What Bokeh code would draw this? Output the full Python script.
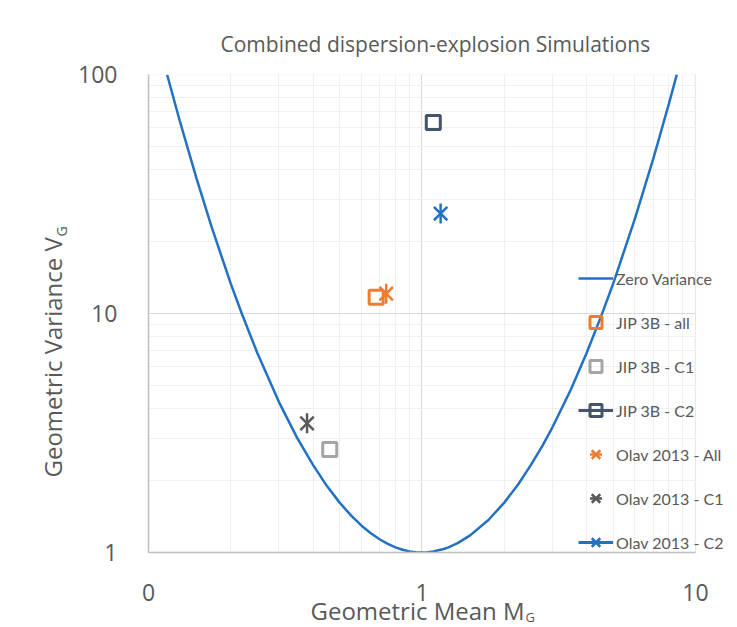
from bokeh.plotting import figure
from bokeh.models import Range1d, FixedTicker, Legend, LegendItem, Title, BoxAnnotation
from bokeh.embed import file_html
from bokeh.resources import INLINE

TITLE = "Combined dispersion-explosion Simulations"
X_LABEL = "Geometric Mean M"
Y_LABEL = "Geometric Variance V"
SUBSCRIPT = "G"

x_ticks = [0.1, 1, 10]
x_tick_labels = ["0", "1", "10"]
y_ticks = [1, 10, 100]
y_tick_labels = ["1", "10", "100"]

# Zero variance curve
zero_var_m = [0.117, 0.13, 0.15, 0.17, 0.2, 0.22, 0.25, 0.3, 0.35, 0.4, 0.45, 0.5, 0.55,
              0.6, 0.65, 0.7, 0.75, 0.8, 0.85, 0.9, 0.95, 1.0, 1.05, 1.1, 1.2, 1.25, 1.35,
              1.5, 1.75, 2.0, 2.25, 2.5, 2.75, 3.0, 3.5, 4.0, 4.5, 5.0, 6.0, 7.0, 8.0, 8.55]
zero_var_v = [99.8, 64.2, 36.6, 23.1, 13.3, 9.9, 6.83, 4.26, 3.01, 2.32, 1.892, 1.617, 1.43,
              1.298, 1.204, 1.136, 1.086, 1.051, 1.027, 1.011, 1.0026, 1.0, 1.0024, 1.009, 1.034, 1.051, 1.094,
              1.179, 1.368, 1.617, 1.93, 2.32, 2.782, 3.34, 4.8, 6.83, 9.61, 13.3, 24.8, 44.1, 75.5, 100.0]

series_names = ["JIP 3B - all", "JIP 3B - C1", "JIP 3B - C2",
                "Olav 2013 - All", "Olav 2013 - C1", "Olav 2013 - C2"]
series_m = [0.68, 0.46, 1.10, 0.74, 0.38, 1.17]
series_v = [11.7, 2.7, 63.0, 12.1, 3.47, 26.2]

series_colors = ["#ED7D31", "#A5A5A5", "#44546A", "#ED7D31", "#595959", "#2271C3"]
series_markers = ["square", "square", "square", "star6", "star6", "star6"]
series_has_line = [False, False, True, False, False, True]
CURVE_COLOR = "#2271C3"
TEXT_COLOR = "#595959"
FONT = "Open Sans"

# plot area spans x 0.1..10; the frame runs on to the right edge so the legend fits
X_END = 14.25

p = figure(width=737, height=627, x_axis_type="log", y_axis_type="log",
           x_range=Range1d(0.1, X_END), y_range=Range1d(1, 100),
           output_backend="svg", toolbar_location=None, title=TITLE,
           min_border_left=148, min_border_right=0, min_border_top=74, min_border_bottom=75,
           background_fill_color="white", border_fill_color="white",
           outline_line_color=None)

p.title.align = "left"
p.title.offset = 72
p.title.vertical_align = "bottom"
p.title.standoff = 34
p.title.text_font = FONT
p.title.text_font_size = "21px"
p.title.text_font_style = "normal"
p.title.text_color = TEXT_COLOR

x_minor = [m * 10 ** e for e in (-1, 0) for m in range(2, 10)]
y_minor = [m * 10 ** e for e in (0, 1) for m in range(2, 10)]
xt = FixedTicker(ticks=x_ticks, minor_ticks=x_minor)
yt = FixedTicker(ticks=y_ticks, minor_ticks=y_minor)
p.xaxis.ticker = xt
p.yaxis.ticker = yt
p.xgrid.ticker = xt
p.ygrid.ticker = yt
p.xaxis.major_label_overrides = dict(zip(x_ticks, x_tick_labels))
p.yaxis.major_label_overrides = dict(zip(y_ticks, y_tick_labels))
p.xaxis.bounds = (0.1, 10)

for g in (p.xgrid, p.ygrid):
    g.grid_line_color = "#D9D9D9"
    g.minor_grid_line_color = "#F0F0F0"
    g.grid_line_width = 1
    g.minor_grid_line_width = 1

for ax in (p.xaxis, p.yaxis):
    ax.axis_line_color = "#BFBFBF"
    ax.axis_line_width = 1.5
    ax.major_tick_line_color = None
    ax.minor_tick_line_color = None
    ax.major_label_text_color = TEXT_COLOR
    ax.major_label_text_font = FONT
    ax.major_label_text_font_size = "23px"
p.xaxis.major_label_standoff = 25
p.yaxis.major_label_standoff = 25

# hide the grid beyond x = 10 and draw the plot-area border
p.add_layout(BoxAnnotation(left=10, fill_color="white", fill_alpha=1, line_alpha=0,
                           level="underlay"))
p.add_layout(BoxAnnotation(left=0.1, right=10, bottom=1, top=100, fill_alpha=0,
                           line_color="#D9D9D9", line_width=1.5, level="underlay"))

items = []
curve = p.line(zero_var_m, zero_var_v, line_color=CURVE_COLOR, line_width=2.5)
items.append(LegendItem(label="Zero Variance", renderers=[curve]))

for name, m, v, c, mk, hl in zip(series_names, series_m, series_v, series_colors,
                                  series_markers, series_has_line):
    rs = []
    if hl:
        rs.append(p.line([m], [v], line_color=c, line_width=3))
    if mk == "square":
        rs.append(p.scatter([m], [v], marker="square", size=14, fill_color=None,
                            line_color=c, line_width=3))
    else:
        rs.append(p.scatter([m], [v], marker="x", size=19, line_color=c, line_width=2.5))
        rs.append(p.scatter([m], [v], marker="dash", size=20, angle=1.5708,
                            line_color=c, line_width=2.5))
    items.append(LegendItem(label=name, renderers=rs))

legend = Legend(items=items, location=(430, -5), glyph_width=35, glyph_height=30,
                label_height=30, spacing=14, padding=0, margin=0, label_standoff=3,
                border_line_color=None, background_fill_alpha=0,
                label_text_font="Lato", label_text_font_size="16px",
                label_text_color=TEXT_COLOR)
p.add_layout(legend)

# axis titles with subscripts
xl_main = Title(text=X_LABEL, align="left", offset=162, vertical_align="top", standoff=-19,
                text_font=FONT, text_font_size="24px", text_font_style="normal",
                text_color=TEXT_COLOR)
xl_sub = Title(text=SUBSCRIPT, align="left", offset=377, vertical_align="top", standoff=-24,
               text_font=FONT, text_font_size="13px", text_font_style="normal",
               text_color=TEXT_COLOR)
p.add_layout(xl_main, "below")
p.add_layout(xl_sub, "below")

yl_sub = Title(text=SUBSCRIPT, align="left", offset=316, vertical_align="bottom", standoff=10,
               text_font=FONT, text_font_size="14px", text_font_style="normal",
               text_color=TEXT_COLOR)
yl_main = Title(text=Y_LABEL, align="left", offset=75, vertical_align="bottom", standoff=-48,
                text_font=FONT, text_font_size="24px", text_font_style="normal",
                text_color=TEXT_COLOR)
p.add_layout(yl_sub, "left")
p.add_layout(yl_main, "left")

open("out.html", "w").write(file_html(p, INLINE))
